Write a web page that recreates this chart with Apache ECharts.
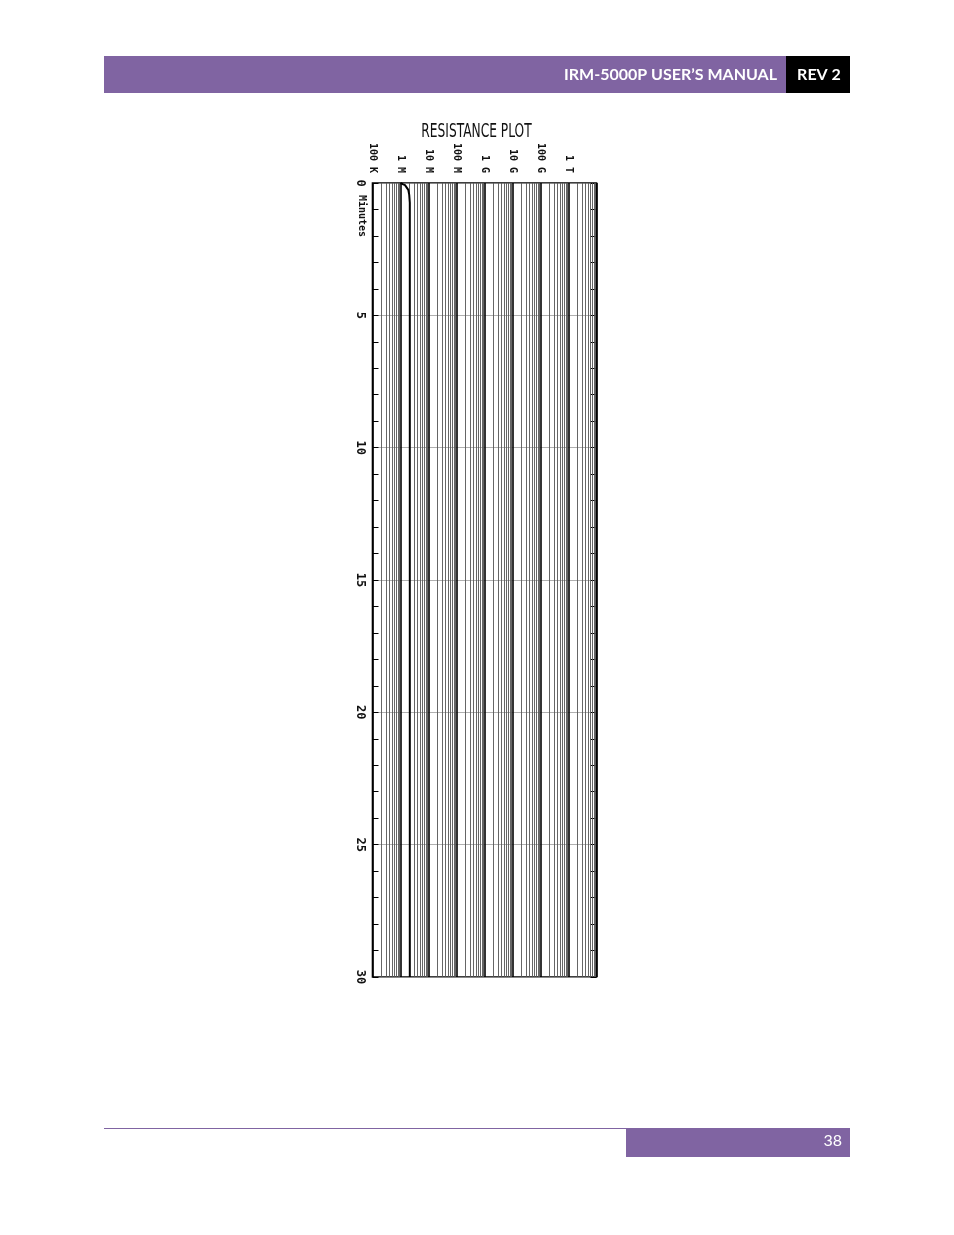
<!DOCTYPE html>
<html>
<head>
<meta charset="utf-8">
<script src="https://cdn.jsdelivr.net/npm/echarts@6/dist/echarts.min.js"></script>
<style>
html,body{margin:0;padding:0;background:#fff;}
#chart{width:954px;height:1235px;}
</style>
</head>
<body>
<div id="chart"></div>
<script>
// Elapsed time (minutes) and measured resistance (ohms)
const timeMinutes = [0, 0.04, 0.08, 0.15, 0.26, 0.45, 0.75, 1.5, 3, 6, 10, 15, 20, 25, 30];
const resistanceOhms = [1.0e6, 1.2e6, 1.45e6, 1.7e6, 1.9e6, 2.05e6, 2.15e6, 2.15e6, 2.15e6, 2.15e6, 2.15e6, 2.15e6, 2.15e6, 2.15e6, 2.15e6];

// Top axis decade labels
const decadeValues = [1e5, 1e6, 1e7, 1e8, 1e9, 1e10, 1e11, 1e12, 1e13];
const decadeLabels = ['100 K', '1 M', '10 M', '100 M', '1 G', '10 G', '100 G', '1 T', ''];
const minorMultipliers = [2, 3, 4, 5, 6, 7, 8, 9];

// Time axis labels
const timeTickLabels = ['0', '5', '10', '15', '20', '25', '30'];

const headerTitle = 'IRM-5000P USER\u2019S MANUAL';
const headerRev = 'REV 2';
const pageNumber = '38';
const plotTitle = 'RESISTANCE PLOT';

const series = timeMinutes.map((t, i) => [resistanceOhms[i], t]);

const minorLines = [];
decadeValues.slice(0, -1).forEach(d => {
  minorMultipliers.forEach(m => minorLines.push({ xAxis: d * m }));
});

const labelMap = {};
decadeValues.forEach((v, i) => { labelMap[Math.round(Math.log10(v))] = decadeLabels[i]; });

const chart = echarts.init(document.getElementById('chart'), null, { renderer: 'canvas' });

const PURPLE = '#8064A2';
const MONO = '"DejaVu Sans Mono", "Liberation Mono", monospace';

chart.setOption({
  animation: false,
  backgroundColor: '#fff',
  grid: {
    left: 372.5, top: 183, width: 224, height: 794,
    show: true, borderColor: '#000', borderWidth: 1.6, backgroundColor: 'transparent'
  },
  xAxis: [{
    type: 'log', logBase: 10, min: 1e5, max: 1e13, splitNumber: 8, position: 'top',
    axisLine: { show: false },
    axisTick: { show: false },
    axisLabel: {
      rotate: -90, margin: 10,
      fontFamily: MONO, fontSize: 10, fontWeight: 'bold', color: '#111',
      formatter: v => labelMap[Math.round(Math.log10(v))] || ''
    },
    splitLine: { show: true, lineStyle: { color: '#000', width: 1.6 } }
  }],
  yAxis: [{
    type: 'value', inverse: true, min: 0, max: 30, interval: 5, position: 'left',
    axisLine: { show: false },
    axisTick: { show: false },
    axisLabel: {
      rotate: -90, margin: 6, fontFamily: MONO, fontSize: 12, fontWeight: 'bold', color: '#111',
      formatter: v => timeTickLabels[Math.round(v / 5)]
    },
    splitLine: { show: true, lineStyle: { color: '#9a9a9a', width: 0.8 } }
  }, {
    type: 'value', inverse: true, min: 0, max: 30, interval: 1, position: 'left',
    axisLine: { show: false },
    axisTick: { show: true, inside: true, length: 6, lineStyle: { color: '#000', width: 1 } },
    axisLabel: { show: false }, splitLine: { show: false }
  }, {
    type: 'value', inverse: true, min: 0, max: 30, interval: 1, position: 'right',
    axisLine: { show: false },
    axisTick: { show: true, inside: true, length: 6, lineStyle: { color: '#000', width: 1 } },
    axisLabel: { show: false }, splitLine: { show: false }
  }],
  series: [{
    type: 'line',
    xAxisIndex: 0, yAxisIndex: 0,
    data: series,
    showSymbol: false,
    lineStyle: { color: '#000', width: 2 },
    z: 5,
    markLine: {
      silent: true, symbol: ['none', 'none'], animation: false,
      label: { show: false },
      lineStyle: { type: 'solid', color: '#555', width: 0.9 },
      emphasis: { disabled: true },
      data: minorLines
    }
  }],
  graphic: [
    { type: 'rect', shape: { x: 104, y: 56, width: 682, height: 37 }, style: { fill: PURPLE } },
    { type: 'rect', shape: { x: 786, y: 56, width: 64, height: 37 }, style: { fill: '#000' } },
    { type: 'text', x: 777, y: 74.5, style: { text: headerTitle, fill: '#fff', font: 'bold 16px Lato, "Open Sans", sans-serif', textAlign: 'right', textVerticalAlign: 'middle' } },
    { type: 'text', x: 819, y: 74.5, style: { text: headerRev, fill: '#fff', font: 'bold 16px Lato, "Open Sans", sans-serif', textAlign: 'center', textVerticalAlign: 'middle' } },
    { type: 'rect', shape: { x: 104, y: 1128, width: 522, height: 1 }, style: { fill: PURPLE } },
    { type: 'rect', shape: { x: 626, y: 1128, width: 224, height: 29 }, style: { fill: PURPLE } },
    { type: 'text', x: 842, y: 1141, style: { text: pageNumber, fill: '#fff', font: '16px Lato, "Open Sans", sans-serif', textAlign: 'right', textVerticalAlign: 'middle' } },
    { type: 'text', x: 476.5, y: 132, scaleX: 0.68, style: { text: plotTitle, fill: '#111', font: '20px "Liberation Sans Narrow", "DejaVu Sans Condensed", sans-serif', textAlign: 'center', textVerticalAlign: 'middle' } },
    { type: 'text', x: 362, y: 195, rotation: -Math.PI / 2, style: { text: 'Minutes', fill: '#111', font: 'bold 10px "DejaVu Sans Mono", monospace', textAlign: 'left', textVerticalAlign: 'middle' } }
  ]
});
</script>
</body>
</html>
